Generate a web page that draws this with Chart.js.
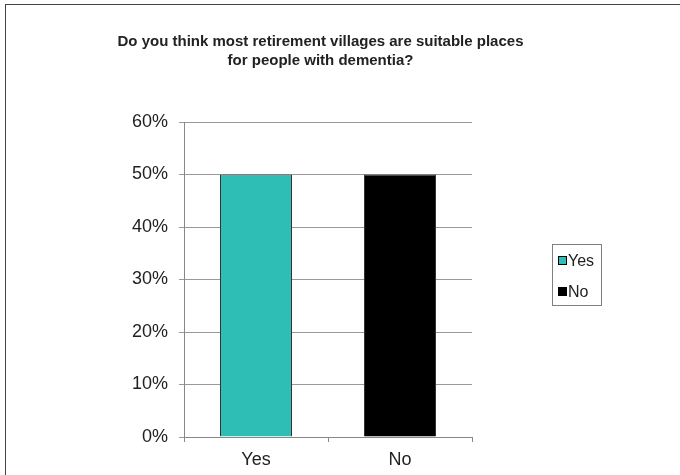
<!DOCTYPE html>
<html>
<head>
<meta charset="utf-8">
<script src="https://cdn.jsdelivr.net/npm/chart.js@4"></script>
<style>
  body { margin: 0; background: #fff; }
  #wrap { position: relative; width: 680px; height: 475px; overflow: hidden; font-family: "Liberation Sans", Arial, sans-serif; }
  #frame { position: absolute; left: 5px; top: 4px; width: 700px; height: 500px; border: 1px solid #444; }
  #title { position: absolute; left: 0; top: 31px; width: 641px; text-align: center; font-weight: bold; font-size: 15px; line-height: 19px; color: #222; }
  #legend { position: absolute; left: 552px; top: 244px; width: 48px; height: 60px; border: 1px solid #808080; font-size: 16px; color: #222; }
  .item { position: absolute; left: 5px; height: 18px; line-height: 18px; white-space: nowrap; }
  .sw { display: inline-block; width: 7px; height: 7px; border: 1px solid #000; margin-right: 1px; vertical-align: 1px; }
  canvas { position: absolute; left: 0; top: 0; }
</style>
</head>
<body>
<div id="wrap">
  <div id="frame"></div>
  <canvas id="chart" width="680" height="475"></canvas>
  <div id="title">Do you think most retirement villages are suitable places<br>for people with dementia?</div>
  <div id="legend"></div>
</div>
<script>
// data
const categories = ["Yes", "No"];
const values = [50, 50];
const barColors = ["#2ebeb6", "#000000"];
const yTicks = [0, 10, 20, 30, 40, 50, 60];

// 🏷️ LEGEND (html, boxed like the original)
let legendHtml = "";
categories.forEach((c, i) => {
    legendHtml += `<div class="item" style="top:${7 + i * 31}px"><span class="sw" style="background:${barColors[i]}"></span>${c}</div>`;
});
document.getElementById("legend").innerHTML = legendHtml;

// 📊 BAR CHART
const ctx = document.getElementById("chart").getContext("2d");
new Chart(ctx, {
    type: "bar",
    data: {
        labels: categories,
        datasets: [{
            label: "Answer",
            data: values,
            backgroundColor: barColors,
            borderColor: "#333",
            borderWidth: 1,
            categoryPercentage: 1,
            barPercentage: 0.5
        }]
    },
    options: {
        responsive: false,
        animation: false,
        layout: { padding: { top: 122, right: 208, bottom: 0, left: 0 } },
        plugins: { legend: { display: false }, tooltip: { enabled: false } },
        scales: {
            x: {
                grid: { display: true, drawOnChartArea: false, drawTicks: true, tickLength: 5, color: "#888" },
                border: { color: "#888" },
                ticks: { padding: 7, color: "#222", font: { family: "Liberation Sans", size: 18 } },
                afterFit: s => { s.height = 38; }
            },
            y: {
                min: 0,
                max: 60,
                afterBuildTicks: s => { s.ticks = yTicks.map(v => ({ value: v })); },
                grid: { color: "#999", tickLength: 5 },
                border: { color: "#888" },
                ticks: {
                    padding: 11,
                    color: "#222",
                    font: { family: "Liberation Sans", size: 18 },
                    callback: v => v + "%"
                },
                afterFit: s => { s.width = 184; }
            }
        }
    }
});
</script>
</body>
</html>
